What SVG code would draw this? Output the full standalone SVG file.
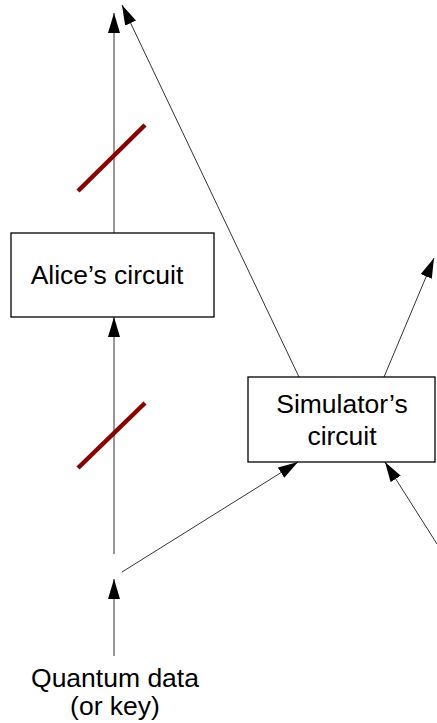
<svg xmlns="http://www.w3.org/2000/svg" width="437" height="723" viewBox="0 0 437 723">
<style>
.box{fill:#fff;stroke:#000;stroke-width:1.3}
.lbl{font-family:"Liberation Sans",Arial,sans-serif;font-size:26.5px;fill:#000;text-anchor:middle}
.conn{stroke:#333;stroke-width:1;fill:none;marker-end:url(#arr)}
.slash{stroke:#8b0000;stroke-width:4.5;fill:none}
</style>
<defs>
<marker id="arr" markerUnits="userSpaceOnUse" markerWidth="20" markerHeight="12" refX="20" refY="6" orient="auto" viewBox="0 0 20 12">
<path d="M0,0 L20,6 L0,12 z" fill="#000"/>
</marker>
</defs>
<g id="connectors">
<line class="conn" x1="114" y1="233" x2="114" y2="13"/>
<line class="conn" x1="299" y1="377" x2="122" y2="5"/>
<line class="conn" x1="384" y1="377" x2="434" y2="258"/>
<line class="conn" x1="437" y1="544" x2="385" y2="462"/>
<line class="conn" x1="122" y1="572" x2="298" y2="462"/>
<line class="conn" x1="114" y1="554" x2="114" y2="317"/>
<line class="conn" x1="114" y1="656" x2="114" y2="579"/>
<line class="slash" x1="78" y1="191" x2="145" y2="125"/>
<line class="slash" x1="78" y1="468" x2="145" y2="403"/>
</g>
<g id="alice">
<rect class="box" x="11" y="233" width="203" height="84"/>
<text class="lbl" x="107" y="284">Alice’s circuit</text>
</g>
<g id="simulator">
<rect class="box" x="248" y="377" width="187" height="85"/>
<text class="lbl" x="342" y="413">Simulator’s</text>
<text class="lbl" x="342" y="445">circuit</text>
</g>
<g id="data">
<text class="lbl" x="115" y="687">Quantum data</text>
<text class="lbl" x="115" y="715">(or key)</text>
</g>
</svg>
